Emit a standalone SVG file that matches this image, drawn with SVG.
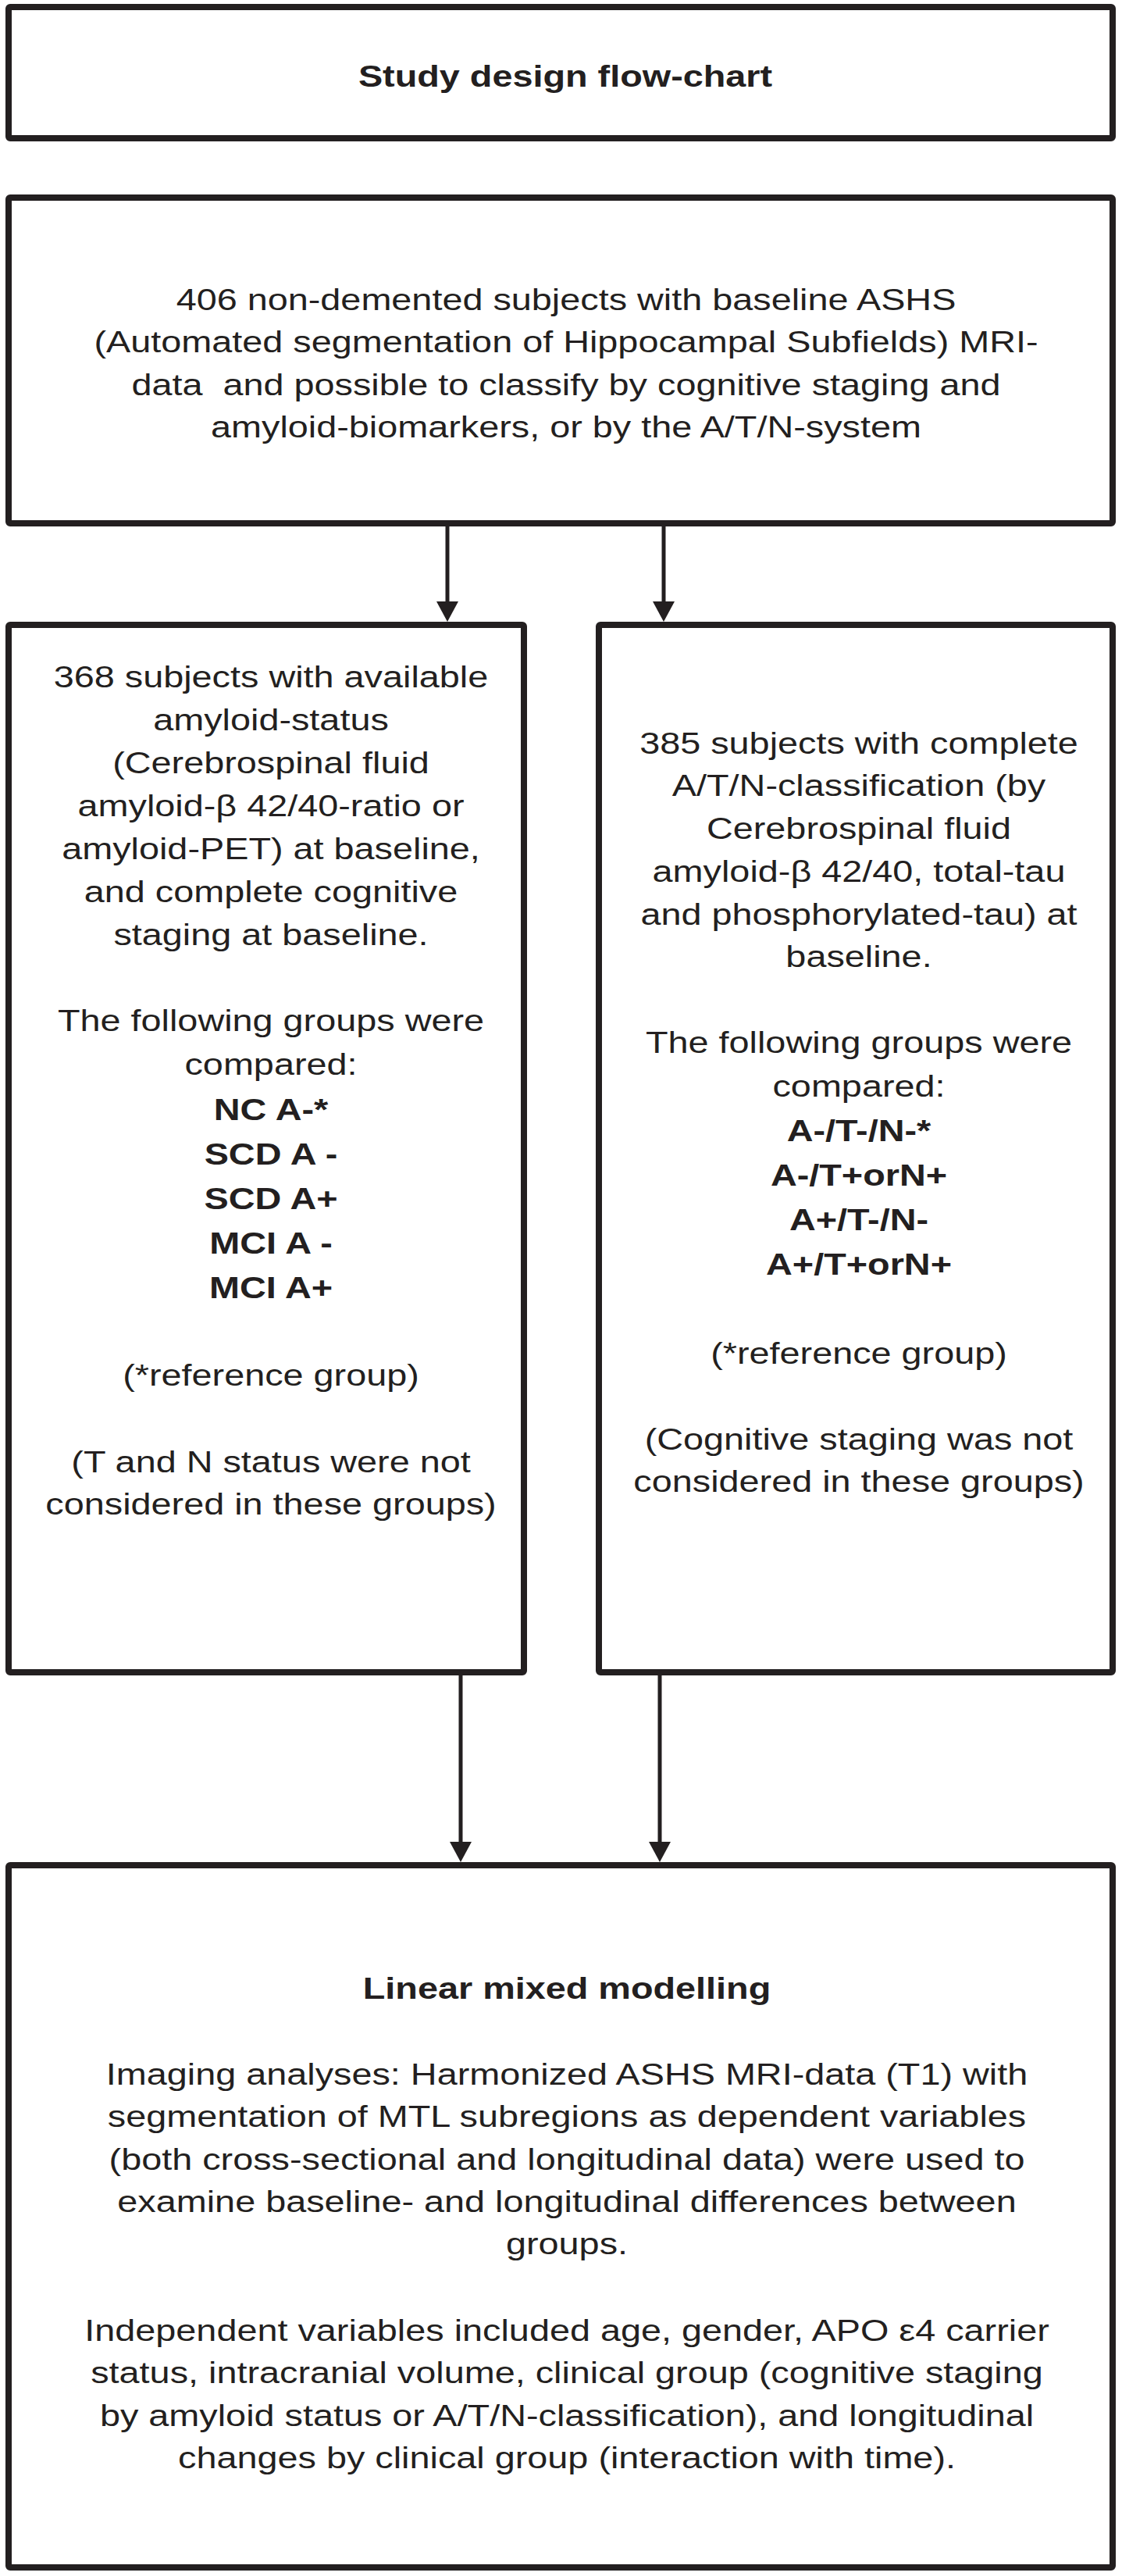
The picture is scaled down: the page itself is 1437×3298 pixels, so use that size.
<svg xmlns="http://www.w3.org/2000/svg" width="1437" height="3298" viewBox="0 0 1437 3298">
<defs>
<style>
.box{fill:#fff;stroke:#231f20;stroke-width:8;stroke-linejoin:round}
.t{font-family:"Liberation Sans",Arial,Helvetica,sans-serif;font-size:39px;fill:#231f20;text-anchor:middle}
.b{font-weight:bold}
.edge{stroke:#231f20;stroke-width:5;fill:none}
</style>
<marker id="ah" markerUnits="userSpaceOnUse" markerWidth="26" markerHeight="28" refX="6" refY="14" orient="auto" viewBox="0 0 26 28">
<path d="M0,0 L26,14 L0,28 Z" fill="#231f20"/>
</marker>
</defs>
<rect width="1437" height="3298" fill="#fff"/>

<g id="connectors">
<line class="edge" x1="573" y1="674" x2="573" y2="776" marker-end="url(#ah)"/>
<line class="edge" x1="850" y1="674" x2="850" y2="776" marker-end="url(#ah)"/>
<line class="edge" x1="590" y1="2145" x2="590" y2="2364" marker-end="url(#ah)"/>
<line class="edge" x1="845" y1="2145" x2="845" y2="2364" marker-end="url(#ah)"/>
</g>

<g id="title">
<rect class="box" x="11" y="9" width="1414" height="168" rx="2"/>
<g transform="translate(724 0) scale(1.2 1)">
<text class="t b" x="0" y="111">Study design flow-chart</text>
</g>
</g>

<g id="cohort">
<rect class="box" x="11" y="253" width="1414" height="417" rx="2"/>
<g transform="translate(725 0) scale(1.2 1)">
<text class="t" x="0" y="397">406 non-demented subjects with baseline ASHS</text>
<text class="t" x="0" y="451">(Automated segmentation of Hippocampal Subfields) MRI-</text>
<text class="t" x="0" y="506" xml:space="preserve">data  and possible to classify by cognitive staging and</text>
<text class="t" x="0" y="560">amyloid-biomarkers, or by the A/T/N-system</text>
</g>
</g>

<g id="amyloid-groups">
<rect class="box" x="11" y="800" width="660" height="1341" rx="2"/>
<g transform="translate(347 0) scale(1.2 1)">
<text class="t" x="0" y="880">368 subjects with available</text>
<text class="t" x="0" y="935">amyloid-status</text>
<text class="t" x="0" y="990">(Cerebrospinal fluid</text>
<text class="t" x="0" y="1045">amyloid-β 42/40-ratio or</text>
<text class="t" x="0" y="1100">amyloid-PET) at baseline,</text>
<text class="t" x="0" y="1155">and complete cognitive</text>
<text class="t" x="0" y="1210">staging at baseline.</text>
<text class="t" x="0" y="1320">The following groups were</text>
<text class="t" x="0" y="1376">compared:</text>
<text class="t b" x="0" y="1434">NC A-*</text>
<text class="t b" x="0" y="1491">SCD A -</text>
<text class="t b" x="0" y="1548">SCD A+</text>
<text class="t b" x="0" y="1605">MCI A -</text>
<text class="t b" x="0" y="1662">MCI A+</text>
<text class="t" x="0" y="1774">(*reference group)</text>
<text class="t" x="0" y="1885">(T and N status were not</text>
<text class="t" x="0" y="1939">considered in these groups)</text>
</g>
</g>

<g id="atn-groups">
<rect class="box" x="767" y="800" width="658" height="1341" rx="2"/>
<g transform="translate(1100 0) scale(1.2 1)">
<text class="t" x="0" y="965">385 subjects with complete</text>
<text class="t" x="0" y="1019">A/T/N-classification (by</text>
<text class="t" x="0" y="1074">Cerebrospinal fluid</text>
<text class="t" x="0" y="1129">amyloid-β 42/40, total-tau</text>
<text class="t" x="0" y="1184">and phosphorylated-tau) at</text>
<text class="t" x="0" y="1238">baseline.</text>
<text class="t" x="0" y="1348">The following groups were</text>
<text class="t" x="0" y="1404">compared:</text>
<text class="t b" x="0" y="1461">A-/T-/N-*</text>
<text class="t b" x="0" y="1518">A-/T+orN+</text>
<text class="t b" x="0" y="1575">A+/T-/N-</text>
<text class="t b" x="0" y="1632">A+/T+orN+</text>
<text class="t" x="0" y="1746">(*reference group)</text>
<text class="t" x="0" y="1856">(Cognitive staging was not</text>
<text class="t" x="0" y="1910">considered in these groups)</text>
</g>
</g>

<g id="modelling">
<rect class="box" x="11" y="2388" width="1414" height="899" rx="2"/>
<g transform="translate(726 0) scale(1.2 1)">
<text class="t b" x="0" y="2559">Linear mixed modelling</text>
<text class="t" x="0" y="2669">Imaging analyses: Harmonized ASHS MRI-data (T1) with</text>
<text class="t" x="0" y="2723">segmentation of MTL subregions as dependent variables</text>
<text class="t" x="0" y="2778">(both cross-sectional and longitudinal data) were used to</text>
<text class="t" x="0" y="2832">examine baseline- and longitudinal differences between</text>
<text class="t" x="0" y="2886">groups.</text>
<text class="t" x="0" y="2997">Independent variables included age, gender, APO ε4 carrier</text>
<text class="t" x="0" y="3051">status, intracranial volume, clinical group (cognitive staging</text>
<text class="t" x="0" y="3106">by amyloid status or A/T/N-classification), and longitudinal</text>
<text class="t" x="0" y="3160">changes by clinical group (interaction with time).</text>
</g>
</g>
</svg>
